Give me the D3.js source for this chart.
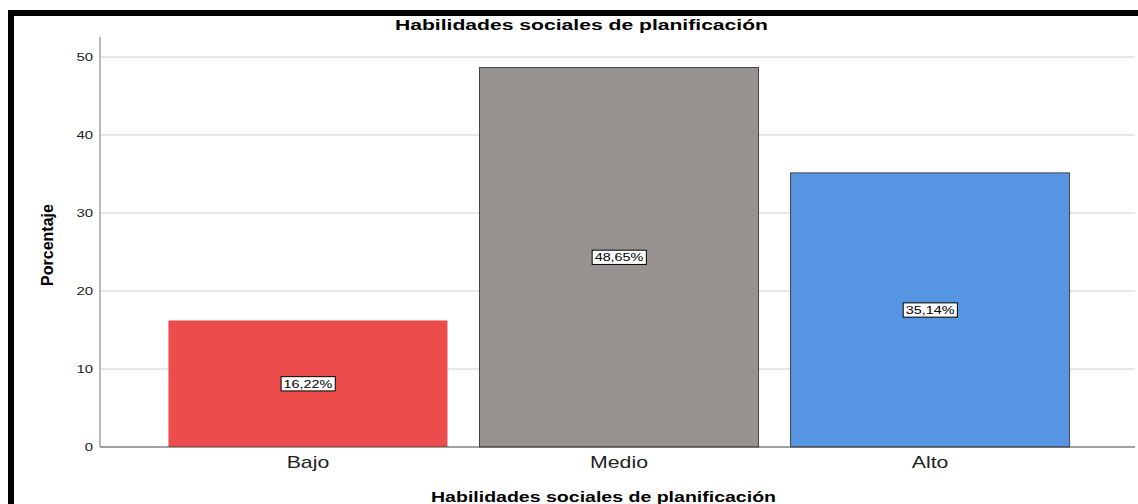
<!DOCTYPE html>
<html><head><meta charset="utf-8">
<script src="https://cdn.jsdelivr.net/npm/d3@7"></script>
<style>body{margin:0;background:#fff}svg{display:block}</style>
</head><body>
<svg id="c" width="1138" height="504"></svg>
<script>
const categories = ["Bajo", "Medio", "Alto"];
const values = [16.22, 48.65, 35.14];
const labels = ["16,22%", "48,65%", "35,14%"];
const colors = ["#EC4C4C", "#969290", "#5595E2"];
const yTicks = [0, 10, 20, 30, 40, 50];
const title = "Habilidades sociales de planificación";
const yTitle = "Porcentaje";

const FONT = "Liberation Sans, Arial, sans-serif";
const svg = d3.select("#c");
const mLeft = 100, mRight = 1138, mTop = 37, mBottom = 447;
const x = d3.scaleBand().domain(categories).range([mLeft, mRight]).paddingInner(0.103).paddingOuter(0.22);
const y = d3.scaleLinear().domain([0, 50]).range([mBottom, 57]);

// frame
svg.append("rect").attr("x", 8).attr("y", 10).attr("width", 1140).attr("height", 6).attr("fill", "#000");
svg.append("rect").attr("x", 8).attr("y", 10).attr("width", 6).attr("height", 500).attr("fill", "#000");

// grid
svg.append("g").selectAll("line").data(yTicks.filter(d => d > 0)).join("line")
  .attr("x1", mLeft).attr("x2", 1135).attr("y1", d => y(d)).attr("y2", d => y(d))
  .attr("stroke", "#cfcfcf").attr("stroke-width", 1.2);

// y axis
const ya = svg.append("g").attr("transform", `translate(${mLeft},0)`)
  .call(d3.axisLeft(y).tickValues(yTicks).tickSize(0).tickPadding(8));
ya.select(".domain").remove();
ya.selectAll("text").attr("x", 0).attr("transform", "translate(-7,0) scale(1.3,1)")
  .attr("font-family", FONT).attr("font-size", 11.5).attr("fill", "#222");
svg.append("line").attr("x1", mLeft).attr("x2", mLeft).attr("y1", mTop).attr("y2", mBottom).attr("stroke", "#a0a0a0").attr("stroke-width", 1.5);

// bars
svg.append("g").selectAll("rect").data(values).join("rect")
  .attr("x", (d, i) => x(categories[i])).attr("width", x.bandwidth())
  .attr("y", d => y(d)).attr("height", d => mBottom - y(d))
  .attr("fill", (d, i) => colors[i])
  .attr("stroke", (d, i) => i === 0 ? "none" : "#444").attr("stroke-width", 1);

// x axis line
svg.append("line").attr("x1", mLeft).attr("x2", 1135).attr("y1", mBottom).attr("y2", mBottom).attr("stroke", "#444").attr("stroke-width", 1.2);

// x category labels
const xa = svg.append("g").attr("transform", `translate(0,${mBottom})`)
  .call(d3.axisBottom(x).tickSize(0).tickPadding(10));
xa.select(".domain").remove();
xa.selectAll("text").attr("transform", "scale(1.33,1)")
  .attr("font-family", FONT).attr("font-size", 16).attr("fill", "#222");

// value labels
const sx = 1.25;
const lg = svg.append("g").selectAll("g").data(values).join("g")
  .attr("transform", (d, i) => `translate(${x(categories[i]) + x.bandwidth() / 2},${(y(d) + mBottom) / 2})`);
lg.append("text").text((d, i) => labels[i])
  .attr("font-family", FONT).attr("font-size", 11.5)
  .attr("text-anchor", "middle").attr("dy", "0.35em").attr("fill", "#000")
  .attr("transform", `scale(${sx},1)`)
  .each(function() {
    const b = this.getBBox();
    d3.select(this.parentNode).insert("rect", "text")
      .attr("x", b.x * sx - 2.5).attr("y", b.y - 0.5).attr("width", b.width * sx + 5).attr("height", b.height + 1)
      .attr("fill", "#fff").attr("stroke", "#000").attr("stroke-width", 1);
  });

// titles
svg.append("text").text(title).attr("x", 395).attr("y", 30)
  .attr("textLength", 373).attr("lengthAdjust", "spacingAndGlyphs")
  .attr("font-family", FONT).attr("font-weight", "bold").attr("font-size", 14.5);
svg.append("text").text(title).attr("x", 431).attr("y", 502)
  .attr("textLength", 345).attr("lengthAdjust", "spacingAndGlyphs")
  .attr("font-family", FONT).attr("font-weight", "bold").attr("font-size", 15);
svg.append("text").text(yTitle).attr("transform", "translate(53,245) rotate(-90)").attr("text-anchor", "middle")
  .attr("font-family", "Liberation Sans Narrow, Liberation Sans, Arial, sans-serif").attr("font-weight", "bold").attr("font-size", 16);
</script>
</body></html>
